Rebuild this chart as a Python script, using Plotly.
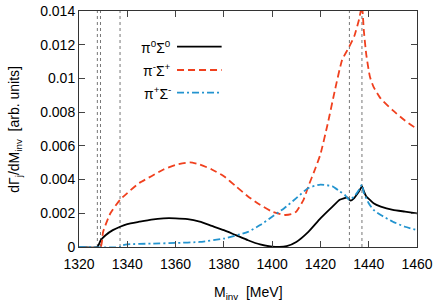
import plotly.graph_objects as go

# ---- data ----
x_pi0 = [1320, 1327.6, 1329, 1331, 1334, 1337, 1340, 1345, 1350, 1355, 1360, 1365, 1370, 1375,
         1380, 1385, 1390, 1395, 1400, 1403, 1406, 1410, 1415, 1420, 1425, 1428, 1430, 1431,
         1432.5, 1434, 1435, 1436, 1437.2, 1438, 1439, 1440.5, 1442, 1445, 1450, 1455, 1460]
y_pi0 = [0, 0, 0.0004, 0.0007, 0.001, 0.0012, 0.00136, 0.0015, 0.00163, 0.0017, 0.0017, 0.00165, 0.0015, 0.00125,
         0.001, 0.0007, 0.0004, 0.00015, 0.00002, 0, 0.00005, 0.0003, 0.0009, 0.0017, 0.0024, 0.0028, 0.0029, 0.00295,
         0.00275, 0.0029, 0.0031, 0.0033, 0.0036, 0.0033, 0.0030, 0.0028, 0.0026, 0.0024, 0.0022, 0.0021, 0.002]

x_pim = [1320, 1328.9, 1330, 1333, 1337, 1340, 1345, 1350, 1355, 1360, 1366, 1370, 1375, 1380,
         1385, 1390, 1395, 1400, 1405, 1408, 1410, 1413, 1415, 1418, 1420, 1423, 1426, 1429,
         1432, 1434, 1436, 1437.2, 1438, 1439, 1440.5, 1442, 1445, 1450, 1455, 1460]
y_pim = [0, 0, 0.0009, 0.002, 0.0028, 0.0032, 0.0038, 0.0042, 0.0046, 0.00487, 0.00502, 0.0049, 0.0046, 0.0042,
         0.0036, 0.003, 0.0025, 0.0021, 0.0019, 0.00195, 0.0021, 0.0028, 0.0036, 0.0047, 0.0055, 0.0073, 0.0093, 0.0111,
         0.0119, 0.0125, 0.0135, 0.0143, 0.0128, 0.0114, 0.0101, 0.0095, 0.0088, 0.0081, 0.0075, 0.007]

x_pip = [1320, 1337, 1338, 1340, 1350, 1360, 1370, 1380, 1390, 1395, 1400, 1405, 1410, 1415,
         1420, 1425, 1428, 1430, 1432, 1434, 1436, 1437.2, 1438, 1440, 1442, 1445, 1450, 1455, 1460]
y_pip = [0, 0, 0.0001, 0.00016, 0.0002, 0.00024, 0.0003, 0.0005, 0.0009, 0.0013, 0.0018, 0.0023, 0.0029, 0.0035,
         0.0037, 0.0036, 0.0033, 0.0031, 0.0028, 0.003, 0.0034, 0.0037, 0.0032, 0.0026, 0.0022, 0.0019, 0.0015, 0.0012, 0.001]

thresholds = [1327.6, 1328.9, 1337.0, 1432.0, 1437.2]

x_ticks = [1320, 1340, 1360, 1380, 1400, 1420, 1440, 1460]
y_ticks = [0, 0.002, 0.004, 0.006, 0.008, 0.01, 0.012, 0.014]
y_ticktext = ["0", "0.002", "0.004", "0.006", "0.008", "0.01", "0.012", "0.014"]

labels = ["π<sup>0</sup>Σ<sup>0</sup>", "π<sup>-</sup>Σ<sup>+</sup>", "π<sup>+</sup>Σ<sup>-</sup>"]
colors = ["#000000", "#f0401e", "#2394cf"]
dashes = ["solid", "7px,4px", "7px,3px,2px,3px"]

FONT = "Liberation Sans, Arial, sans-serif"

fig = go.Figure()
for xs, ys, lab, c, d in zip([x_pi0, x_pim, x_pip], [y_pi0, y_pim, y_pip], labels, colors, dashes):
    fig.add_trace(go.Scatter(x=xs, y=ys, mode="lines", name=lab, showlegend=False,
                             line=dict(color=c, width=1.8, dash=d, shape="spline", smoothing=0.5)))

shapes = []
for t in thresholds:
    shapes.append(dict(type="line", xref="x", yref="paper", x0=t, x1=t, y0=0, y1=1,
                       line=dict(color="#777777", width=1, dash="dot"), layer="below"))

# custom gnuplot-style legend
leg_y = [0.849, 0.75, 0.654]
annotations = []
for lab, c, d, yy in zip(labels, colors, dashes, leg_y):
    shapes.append(dict(type="line", xref="paper", yref="paper", x0=0.29, x1=0.422, y0=yy, y1=yy,
                       line=dict(color=c, width=1.8, dash=d)))
    annotations.append(dict(xref="paper", yref="paper", x=0.278, y=yy, text=lab, showarrow=False,
                            xanchor="right", yanchor="middle", font=dict(size=14, color="#000", family=FONT)))

# axis titles as annotations for exact placement
annotations.append(dict(xref="paper", yref="paper", x=0.5, y=-0.195, text="M<sub>inv</sub>  [MeV]",
                        showarrow=False, xanchor="center", yanchor="middle", font=dict(size=14, family=FONT)))
annotations.append(dict(xref="paper", yref="paper", x=-0.19, y=0.5,
                        text="dΓ<sub>j</sub>/dM<sub>inv</sub>  [arb. units]", textangle=-90,
                        showarrow=False, xanchor="center", yanchor="middle", font=dict(size=14, family=FONT)))

fig.update_layout(
    width=436, height=306,
    margin=dict(l=79, r=19, t=11, b=59, autoexpand=False),
    paper_bgcolor="white", plot_bgcolor="white",
    font=dict(family=FONT, size=14, color="#000"),
    shapes=shapes, annotations=annotations,
    xaxis=dict(range=[1320, 1460], tickvals=x_ticks, ticks="inside", ticklen=6, tickcolor="#444",
               showline=True, linecolor="#333", linewidth=1, mirror="ticks", showgrid=False, zeroline=False,
               automargin=False, tickfont=dict(size=14), ticklabelstandoff=4),
    yaxis=dict(range=[0, 0.014], tickvals=y_ticks, ticktext=y_ticktext, ticks="inside", ticklen=6,
               tickcolor="#444", showline=True, linecolor="#333", linewidth=1, mirror="ticks",
               showgrid=False, zeroline=False, automargin=False, tickfont=dict(size=14)),
)

fig.write_html("out.html", config={"displayModeBar": False},
               post_script="document.body.style.margin='0';document.body.style.overflow='hidden';")
